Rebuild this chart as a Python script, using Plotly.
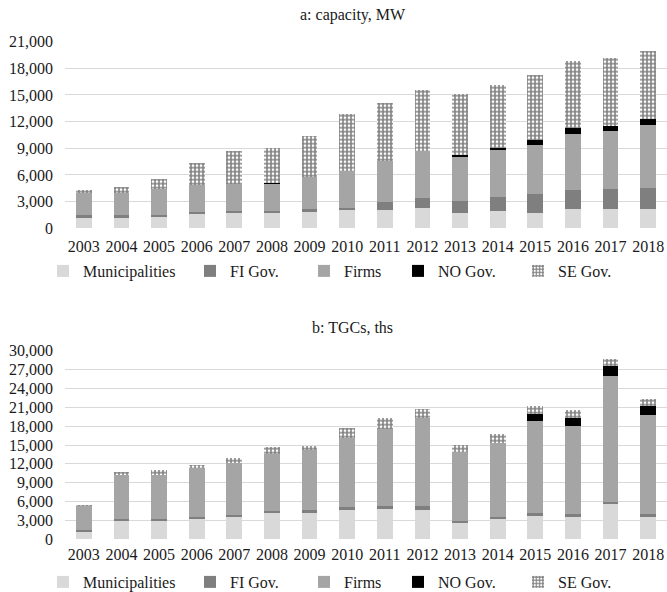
import plotly.graph_objects as go

years = [str(y) for y in range(2003, 2019)]

# a: capacity, MW
cap_muni = [1300, 1270, 1400, 1570, 1700, 1700, 1950, 2060, 2060, 2300, 1700, 1950, 1760, 2170, 2170, 2170]
cap_fi = [200, 190, 100, 270, 250, 250, 220, 240, 940, 1070, 1370, 1570, 2100, 2100, 2250, 2330]
cap_firms = [2550, 2540, 2900, 3030, 3050, 3110, 3630, 4200, 4570, 5370, 4990, 5370, 5480, 6300, 6490, 7090]
cap_no = [0, 0, 0, 0, 0, 80, 0, 0, 0, 0, 150, 100, 600, 720, 590, 670]
cap_se = [220, 650, 1150, 2480, 3740, 3860, 4600, 6360, 6570, 6860, 6860, 7110, 7360, 7570, 7620, 7690]

# b: TGCs, ths
tgc_muni = [1320, 3070, 2970, 3340, 3600, 4130, 4240, 4660, 4770, 4610, 2700, 3180, 3760, 3600, 5560, 3600]
tgc_fi = [160, 220, 210, 260, 320, 430, 420, 530, 580, 740, 270, 370, 430, 370, 380, 480]
tgc_firms = [3870, 6880, 7100, 7690, 8270, 9010, 9540, 10970, 12190, 13890, 10970, 11820, 14570, 14100, 20030, 15630]
tgc_no = [0, 0, 0, 0, 0, 0, 0, 0, 0, 0, 0, 0, 1170, 1270, 1590, 1490]
tgc_se = [150, 530, 720, 510, 740, 1160, 590, 1490, 1700, 1530, 1060, 1430, 1270, 1220, 1160, 1110]

y_ticks_a = [0, 3000, 6000, 9000, 12000, 15000, 18000, 21000]
y_ticks_b = [0, 3000, 6000, 9000, 12000, 15000, 18000, 21000, 24000, 27000, 30000]

names = ["Municipalities", "FI Gov.", "Firms", "NO Gov.", "SE Gov."]
colors = ["#d9d9d9", "#7f7f7f", "#a5a5a5", "#000000", "#ffffff"]

FONT = "Liberation Serif"
TXT = "#1a1a1a"
W, H = 667, 592

# legend entry left positions (px) and legend row centres (px from top)
legend_x_px = [43, 190, 304, 398, 518]
legend_row_px = [271, 582]

fig = go.Figure()

legend_layout = {}
leg_idx = 0


def add_series(series, xaxis, yaxis, row):
    global leg_idx
    for i, (name, vals, col) in enumerate(zip(names, series, colors)):
        leg_idx += 1
        leg_name = "legend" if leg_idx == 1 else f"legend{leg_idx}"
        legend_layout[leg_name] = dict(
            orientation="h", xanchor="left", yanchor="middle",
            xref="container", yref="container",
            x=legend_x_px[i] / W, y=1 - legend_row_px[row] / H,
            font=dict(family=FONT, size=16, color=TXT), itemwidth=30,
            bgcolor="rgba(0,0,0,0)", visible=True,
        )
        marker = dict(color=col, line=dict(width=0))
        if name == "SE Gov.":
            marker["pattern"] = dict(shape="+", fgcolor="#000000", bgcolor="#ffffff",
                                     size=4, solidity=0.62, fillmode="overlay")
        fig.add_trace(go.Bar(x=years, y=vals, name=name, marker=marker,
                             xaxis=xaxis, yaxis=yaxis, legend=leg_name,
                             showlegend=True, hoverinfo="x+y+name"))


add_series([cap_muni, cap_fi, cap_firms, cap_no, cap_se], "x", "y", 0)
add_series([tgc_muni, tgc_fi, tgc_firms, tgc_no, tgc_se], "x2", "y2", 1)

grid = "#d9d9d9"
axis_common = dict(tickfont=dict(family=FONT, size=16, color=TXT), showline=False,
                   zeroline=False)

fig.update_layout(
    width=W, height=H,
    showlegend=True,
    margin=dict(l=65, r=0, t=0, b=0, autoexpand=False),
    paper_bgcolor="white", plot_bgcolor="white",
    barmode="stack", bargap=0.58,
    font=dict(family=FONT, size=16, color=TXT),
    xaxis=dict(domain=[0, 1], anchor="y", showgrid=False, ticks="",
               ticklabelstandoff=7, **axis_common),
    yaxis=dict(domain=[0.6144, 0.9296], anchor="x", range=[0, 21000],
               tickvals=y_ticks_a, tickformat=",", showgrid=True, gridcolor=grid,
               gridwidth=1, ticklabelstandoff=11, **axis_common),
    xaxis2=dict(domain=[0, 1], anchor="y2", showgrid=False, ticks="",
                ticklabelstandoff=4, **axis_common),
    yaxis2=dict(domain=[0.0890, 0.4076], anchor="x2", range=[0, 30000],
                tickvals=y_ticks_b, tickformat=",", showgrid=True, gridcolor=grid,
                gridwidth=1, ticklabelstandoff=11, **axis_common),
    annotations=[
        dict(text="a: capacity, MW", x=0.4776, xref="paper", y=1 - 15 / H, yref="paper",
             showarrow=False, font=dict(family=FONT, size=16, color=TXT),
             xanchor="center", yanchor="middle"),
        dict(text="b: TGCs, ths", x=0.4776, xref="paper", y=1 - 327 / H, yref="paper",
             showarrow=False, font=dict(family=FONT, size=16, color=TXT),
             xanchor="center", yanchor="middle"),
    ],
)
fig.update_layout(**legend_layout)

fig.write_html(
    "out.html",
    config={"displayModeBar": False},
    post_script="document.body.style.margin='0';document.body.style.overflow='hidden';",
)
